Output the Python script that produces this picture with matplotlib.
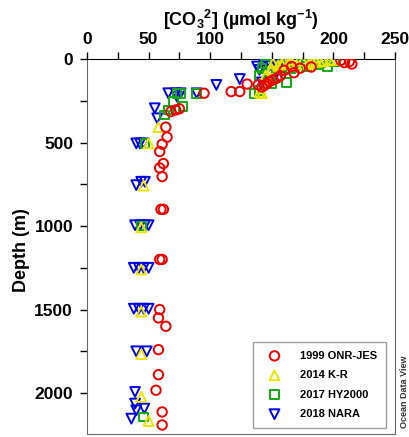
import matplotlib
matplotlib.use('Agg')
import matplotlib.pyplot as plt
from matplotlib.ticker import MultipleLocator

plt.rcParams['font.family'] = 'Liberation Sans'
plt.rcParams['font.weight'] = 'bold'
plt.rcParams['mathtext.fontset'] = 'custom'
plt.rcParams['mathtext.rm'] = 'Liberation Sans:bold'
plt.rcParams['mathtext.it'] = 'Liberation Sans:bold'
plt.rcParams['mathtext.bf'] = 'Liberation Sans:bold'

# 1999 ONR-JES
onr_co3 = [213, 209, 215, 206, 182, 173, 168, 166, 160, 157, 154, 151, 148, 146, 144, 142, 139, 130,
           124, 117, 95, 75, 72, 68, 64, 65, 61, 59, 62, 59, 61, 60, 62, 59, 61, 59, 58, 64, 58, 58,
           56, 61, 61]
onr_depth = [15, 22, 30, 8, 48, 55, 82, 45, 68, 100, 115, 125, 135, 148, 158, 168, 155, 150,
             195, 195, 205, 298, 305, 315, 408, 468, 510, 554, 626, 652, 704, 900, 900, 1200, 1200,
             1500, 1550, 1600, 1740, 1890, 1983, 2113, 2191]

# 2014 K-R
kr_co3 = [151, 155, 160, 170, 175, 186, 189, 192, 197, 180, 165, 142, 140, 148, 158, 165, 183,
          200, 150, 145, 58, 50, 46, 44, 44, 44, 44, 44, 50]
kr_depth = [25, 40, 15, 35, 10, 17, 15, 12, 8, 30, 5, 205, 200, 120, 30, 25, 20,
            5, 60, 100, 408, 505, 758, 1008, 1260, 1512, 1767, 2023, 2167]

# 2017 HY2000
hy_co3 = [142, 136, 140, 155, 150, 162, 171, 178, 186, 195, 201, 165, 145, 152, 158, 168, 175,
          182, 190, 147, 140, 89, 73, 76, 70, 78, 66, 63, 47, 44, 46]
hy_depth = [55, 205, 190, 105, 150, 140, 23, 45, 35, 45, 15, 60, 30, 20, 45, 15, 10,
            30, 20, 75, 100, 205, 205, 205, 255, 285, 305, 335, 505, 1000, 2143]

# 2018 NARA
nara_co3 = [143, 147, 151, 157, 140, 142, 151, 124, 105, 145, 150, 155, 160, 165, 138, 148,
            89, 66, 72, 76, 73, 55, 57,
            40, 43, 46, 40, 44, 47, 39, 43, 47, 50, 38, 42, 46, 50, 38, 42, 46, 50,
            40, 48.5, 39, 39, 40, 46.5, 36]
nara_depth = [20, 15, 18, 15, 65, 140, 125, 120, 155, 5, 8, 5, 10, 5, 45, 40,
              205, 205, 205, 205, 225, 295, 355,
              505, 505, 505, 755, 735, 735, 995, 995, 995, 995, 1250, 1250, 1250, 1250,
              1495, 1495, 1495, 1495, 1750, 1750, 1993, 2063, 2103, 2093, 2153]

fig = plt.figure(figsize=(4.10, 4.37), dpi=100)
ax = fig.add_axes([87/410, 1 - 434/437, 308/410, 375/437])

ax.scatter(nara_co3, nara_depth, s=50, marker='v', facecolors='none', edgecolors='#0000e6',
           linewidths=1.4, label='2018 NARA', zorder=3)
ax.scatter(hy_co3, hy_depth, s=40, marker='s', facecolors='none', edgecolors='#11a811',
           linewidths=1.4, label='2017 HY2000', zorder=4)
ax.scatter(kr_co3, kr_depth, s=50, marker='^', facecolors='none', edgecolors='#ece400',
           linewidths=1.4, label='2014 K-R', zorder=5)
ax.scatter(onr_co3, onr_depth, s=46, marker='o', facecolors='none', edgecolors='#ee0000',
           linewidths=1.4, label='1999 ONR-JES', zorder=6)

ax.set_xlim(0, 250)
ax.set_ylim(2245, 0)
ax.xaxis.tick_top()
ax.xaxis.set_major_locator(MultipleLocator(50))
ax.xaxis.set_minor_locator(MultipleLocator(25))
ax.yaxis.set_major_locator(MultipleLocator(500))
ax.yaxis.set_minor_locator(MultipleLocator(250))
ax.tick_params(axis='both', which='both', direction='out', length=5, width=1, labelsize=12.5)
ax.tick_params(axis='x', pad=4)
ax.tick_params(axis='y', pad=5)
ax.tick_params(which='minor', labelleft=False, labeltop=False)
for side in ['left', 'right', 'bottom']:
    ax.spines[side].set_color('#666666')
ax.spines['top'].set_color('black')

fig.text(241/410, 1 - 20/437, '[CO$_3$$^2$] (µmol kg$^{-1}$)', ha='center', va='center',
         fontsize=13, fontweight='bold')
fig.text(22/410, 1 - 250/437, 'Depth (m)', rotation=90, ha='center', va='center',
         fontsize=13, fontweight='bold')
fig.text(405/410, 1 - 392/437, 'Ocean Data View', rotation=90, ha='center', va='center',
         fontsize=6.5, fontweight='bold', color='#333333')

h, l = ax.get_legend_handles_labels()
order = [3, 2, 1, 0]
leg = ax.legend([h[i] for i in order], [l[i] for i in order], loc='lower right',
                bbox_to_anchor=(0.971, 0.016), fontsize=8, frameon=True, fancybox=False,
                edgecolor='#888888', borderpad=0.8, labelspacing=0.85, handletextpad=1.2,
                borderaxespad=0, handlelength=2.2)
leg.get_frame().set_linewidth(1)

fig.savefig('out.png', dpi=100)
